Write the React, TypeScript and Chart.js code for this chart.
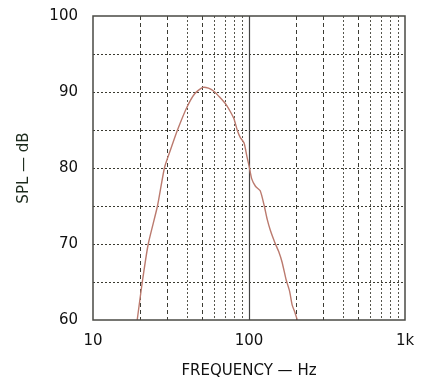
import React, { useEffect, useRef } from "react";
import { Chart, registerables } from "chart.js";

Chart.register(...registerables);

const freqs = [19.2, 20.7, 22.6, 25.9, 28.7, 31.4, 34.8, 40, 45, 50.5, 55, 59.5, 65, 71, 76, 80, 84, 88, 93, 97, 100, 104, 110, 118, 125, 131, 137, 147, 155, 163, 173, 182, 189, 197, 204];
const spl = [60, 65, 70, 75, 80, 82.4, 85, 88, 89.8, 90.6, 90.5, 90.1, 89.3, 88.4, 87.4, 86.5, 85, 84, 83.3, 81.5, 80.3, 78.6, 77.6, 77, 75.1, 73.2, 71.8, 70.1, 69, 67.6, 65.3, 63.8, 62, 61, 60];

const xTickValues = [10, 100, 1000];
const xTickLabels = ["10", "100", "1k"];
const yTickValues = [60, 70, 80, 90, 100];
const yGridValues = [65, 70, 75, 80, 85, 90, 95];
const xGridDashed = [20, 30, 50, 200, 300, 500];
const xGridDotted = [40, 60, 70, 80, 90, 400, 600, 700, 800, 900];
const xGridSolid = [100];

const gridPlugin = {
  id: "paperGrid",
  beforeDatasetsDraw(chart: any) {
    const { ctx, chartArea: a, scales } = chart;
    const xs = scales.x;
    const ys = scales.y;
    ctx.save();
    ctx.lineWidth = 1;
    ctx.strokeStyle = "#3a3a30";
    ctx.setLineDash([2, 2]);
    for (const v of yGridValues) {
      const y = Math.round(ys.getPixelForValue(v)) + 0.5;
      ctx.beginPath();
      ctx.moveTo(a.left, y);
      ctx.lineTo(a.right, y);
      ctx.stroke();
    }
    ctx.strokeStyle = "#3c3c34";
    ctx.setLineDash([4, 3]);
    for (const v of xGridDashed) {
      const x = Math.round(xs.getPixelForValue(v)) + 0.5;
      ctx.beginPath();
      ctx.moveTo(x, a.top);
      ctx.lineTo(x, a.bottom);
      ctx.stroke();
    }
    ctx.strokeStyle = "#55554c";
    ctx.setLineDash([2, 2]);
    for (const v of xGridDotted) {
      const x = Math.round(xs.getPixelForValue(v)) + 0.5;
      ctx.beginPath();
      ctx.moveTo(x, a.top);
      ctx.lineTo(x, a.bottom);
      ctx.stroke();
    }
    ctx.strokeStyle = "#444";
    ctx.setLineDash([]);
    ctx.lineWidth = 1.2;
    for (const v of xGridSolid) {
      const x = Math.round(xs.getPixelForValue(v)) + 0.5;
      ctx.beginPath();
      ctx.moveTo(x, a.top);
      ctx.lineTo(x, a.bottom);
      ctx.stroke();
    }
    ctx.restore();
  },
  afterDatasetsDraw(chart: any) {
    const { ctx, chartArea: a } = chart;
    ctx.save();
    ctx.strokeStyle = "#4a4a44";
    ctx.lineWidth = 1.5;
    ctx.setLineDash([]);
    ctx.strokeRect(a.left, a.top, a.right - a.left, a.bottom - a.top);
    ctx.restore();
  },
};

export default function App() {
  const ref = useRef<HTMLCanvasElement | null>(null);
  useEffect(() => {
    if (!ref.current) return;
    const data = freqs.map((f, i) => ({ x: f, y: spl[i] }));
    const chart = new Chart(ref.current, {
      type: "line",
      data: {
        datasets: [
          {
            data,
            borderColor: "#bb7a6e",
            borderWidth: 1.4,
            pointRadius: 0,
            tension: 0.2,
            fill: false,
          },
        ],
      },
      options: {
        animation: false,
        responsive: false,
        maintainAspectRatio: false,
        layout: { padding: { left: 0, right: 17, top: 16, bottom: 0 } },
        plugins: { legend: { display: false }, tooltip: { enabled: false } },
        scales: {
          x: {
            type: "logarithmic",
            min: 10,
            max: 1000,
            afterBuildTicks: (scale: any) => {
              scale.ticks = xTickValues.map((v) => ({ value: v }));
            },
            afterFit: (scale: any) => {
              scale.height = 60;
              scale.paddingLeft = 0;
              scale.paddingRight = 0;
            },
            ticks: {
              autoSkip: false,
              maxRotation: 0,
              padding: 12,
              color: "#111",
              font: { family: "DejaVu Sans", size: 15 },
              callback: (v: any) => {
                const i = xTickValues.indexOf(Number(v));
                return i >= 0 ? xTickLabels[i] : "";
              },
            },
            grid: { display: false, drawTicks: false },
            border: { display: false },
            title: {
              display: true,
              text: "FREQUENCY — Hz",
              color: "#111",
              font: { family: "DejaVu Sans", size: 15 },
              padding: { top: 10, bottom: 0 },
            },
          },
          y: {
            type: "linear",
            min: 60,
            max: 100,
            afterBuildTicks: (scale: any) => {
              scale.ticks = yTickValues.map((v) => ({ value: v }));
            },
            afterFit: (scale: any) => {
              scale.width = 93;
              scale.paddingTop = 0;
              scale.paddingBottom = 0;
            },
            ticks: {
              padding: 15,
              color: "#111",
              font: { family: "DejaVu Sans", size: 15 },
            },
            grid: { display: false, drawTicks: false },
            border: { display: false },
            title: {
              display: true,
              text: "SPL — dB",
              color: "#1c2a1c",
              font: { family: "DejaVu Sans", size: 15 },
              padding: { top: 15, bottom: 0 },
            },
          },
        },
      },
      plugins: [gridPlugin],
    });
    return () => chart.destroy();
  }, []);
  return (
    <div style={{ position: "fixed", left: 0, top: 0, width: 422, height: 380, background: "#fff" }}>
      <canvas ref={ref} width={422} height={380} style={{ width: 422, height: 380 }} />
    </div>
  );
}
